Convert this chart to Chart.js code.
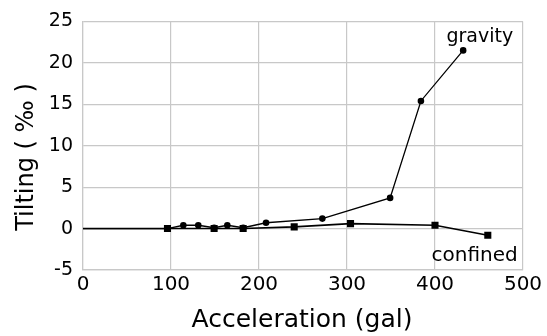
<!DOCTYPE html>
<html>
<head>
<meta charset="utf-8">
<script src="https://cdn.jsdelivr.net/npm/chart.js@4/dist/chart.umd.min.js"></script>
<style>
html,body{margin:0;padding:0;background:#fff;}
#wrap{width:547px;height:336px;position:relative;}
</style>
</head>
<body>
<div id="wrap"><canvas id="c" width="547" height="336"></canvas></div>
<script>
const gravityX = [0, 96, 114, 131, 149, 164, 182, 208, 272, 349, 384, 432];
const gravityY = [0, 0, 0.4, 0.4, 0.1, 0.4, 0.1, 0.7, 1.2, 3.7, 15.4, 21.5];
const confinedX = [0, 96, 149, 182, 240, 304, 400, 460];
const confinedY = [0, 0, 0, 0, 0.2, 0.6, 0.4, -0.8];
const xTicks = [0, 100, 200, 300, 400, 500];
const yTicks = [-5, 0, 5, 10, 15, 20, 25];
const seriesNames = ['gravity', 'confined'];
const xTitle = 'Acceleration (gal)';
const yTitle = 'Tilting ( ‰ )';

const toPts = (xs, ys) => xs.map((x, i) => ({x: x, y: ys[i]}));
const radii = (xs, r) => xs.map(x => x === 0 ? 0 : r);

const FONT = '"DejaVu Sans", sans-serif';

const labelPlugin = {
  id: 'labels',
  afterDatasetsDraw(chart) {
    const ctx = chart.ctx;
    const xs = chart.scales.x, ys = chart.scales.y;
    ctx.save();
    ctx.fillStyle = '#000';
    ctx.font = '19px ' + FONT;
    ctx.textAlign = 'right';
    ctx.textBaseline = 'alphabetic';
    const gi = gravityX.length - 1;
    ctx.fillText(seriesNames[0], xs.getPixelForValue(gravityX[gi]) + 50, ys.getPixelForValue(gravityY[gi]) - 8);
    const ci = confinedX.length - 1;
    ctx.font = '20px ' + FONT;
    ctx.fillText(seriesNames[1], xs.getPixelForValue(confinedX[ci]) + 30, ys.getPixelForValue(confinedY[ci]) + 26);
    ctx.font = '25px ' + FONT;
    ctx.textAlign = 'center';
    ctx.fillText(xTitle, (chart.chartArea.left + chart.chartArea.right) / 2 - 1, 327);
    ctx.font = '24px ' + FONT;
    ctx.translate(33, 157);
    ctx.rotate(-Math.PI / 2);
    ctx.fillText(yTitle, 0, 0);
    ctx.restore();
  }
};

new Chart(document.getElementById('c'), {
  type: 'scatter',
  data: {
    datasets: [
      {
        label: seriesNames[0],
        data: toPts(gravityX, gravityY),
        showLine: true,
        borderColor: '#000',
        backgroundColor: '#000',
        borderWidth: 1.3,
        pointStyle: 'circle',
        pointRadius: radii(gravityX, 3.3),
        pointBorderWidth: 0,
        tension: 0
      },
      {
        label: seriesNames[1],
        data: toPts(confinedX, confinedY),
        showLine: true,
        borderColor: '#000',
        backgroundColor: '#000',
        borderWidth: 1.6,
        pointStyle: 'rect',
        pointRadius: radii(confinedX, 5),
        pointBorderWidth: 0,
        tension: 0
      }
    ]
  },
  options: {
    responsive: false,
    animation: false,
    events: [],
    layout: {padding: {left: 0, right: 24, top: 21, bottom: 0}},
    plugins: {legend: {display: false}, tooltip: {enabled: false}},
    scales: {
      x: {
        type: 'linear',
        min: 0, max: 500,
        afterBuildTicks: s => { s.ticks = xTicks.map(v => ({value: v})); },
        afterFit: s => { s.height = 66; },
        grid: {color: '#c8c8c8', lineWidth: 1.2, drawTicks: false},
        border: {color: '#c8c8c8', width: 1.2},
        ticks: {color: '#000', font: {family: FONT, size: 20}, padding: 3, maxRotation: 0, autoSkip: false}
      },
      y: {
        type: 'linear',
        min: -5, max: 25,
        afterBuildTicks: s => { s.ticks = yTicks.map(v => ({value: v})); },
        afterFit: s => { s.width = 83; },
        grid: {color: '#c8c8c8', lineWidth: 1.2, drawTicks: false},
        border: {color: '#c8c8c8', width: 1.2},
        ticks: {color: '#000', font: {family: FONT, size: 19}, padding: 10, autoSkip: false}
      }
    }
  },
  plugins: [labelPlugin]
});
</script>
</body>
</html>
